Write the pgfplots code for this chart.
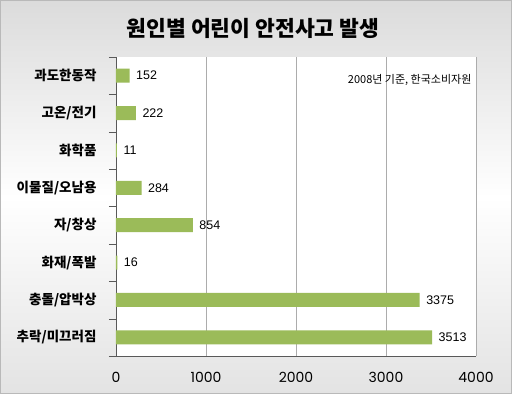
\documentclass[border=0pt]{standalone}
\usepackage{pgfplots}
\pgfplotsset{compat=1.18}
\usepackage{fontspec}
\setmainfont{Liberation Sans}
\newfontfamily\kr{Noto Sans CJK KR}
\newfontfamily\rnd{Poppins}
\definecolor{bargreen}{HTML}{9BBB59}
\begin{document}
\begin{tikzpicture}[x=1pt,y=1pt]
\shade[top color=gray!28, bottom color=gray!22, middle color=white] (0,0) rectangle (512,394);
\draw[gray!55] (0.5,0.5) rectangle (511.5,393.5);
\node[font=\kr\bfseries\fontsize{21.5}{24}\selectfont] at (253,366) {원인별 어린이 안전사고 발생};
\begin{axis}[at={(116pt,38pt)}, anchor=south west, scale only axis,
  width=360pt, height=299pt,
  xbar, bar width=14pt,
  xmin=0, xmax=4000, ymin=-0.5, ymax=7.5, y dir=reverse,
  ytick={0,...,7},
  yticklabels={과도한동작,고온/전기,화학품,이물질/오남용,자/창상,화재/폭발,충돌/압박상,추락/미끄러짐},
  yticklabel style={font=\kr\bfseries\fontsize{13.5}{15}\selectfont, xshift=-16pt},
  xtick={0,1000,2000,3000,4000},
  xticklabel style={font=\rnd\fontsize{14}{16}\selectfont, yshift=-13pt},
  /pgf/number format/assume math mode=true,
  /pgf/number format/1000 sep={},
  major tick length=0pt,
  extra y ticks={-0.5,0.5,1.5,2.5,3.5,4.5,5.5,6.5,7.5},
  extra y tick labels={},
  extra y tick style={major tick length=7pt, tick align=outside, tick style={gray!70!black}, grid=none},
  xmajorgrids, grid style={gray!65},
  axis x line*=bottom, axis y line*=left,
  axis line style={gray!70!black,-},
  axis background/.style={fill=white},
  nodes near coords,
  point meta=x,
  every node near coord/.append style={font=\fontsize{12.5}{14}\selectfont, black, xshift=3pt},
]
\addplot[fill=bargreen, draw=none] coordinates {
(152,0) (222,1) (11,2) (284,3) (854,4) (16,5) (3375,6) (3513,7)};
\draw[gray!70] (axis cs:4000,-0.5) -- (axis cs:4000,7.5);
\end{axis}
\node[anchor=east, font=\kr\fontsize{11}{13}\selectfont] at (475,314) {2008년 기준, 한국소비자원};
\end{tikzpicture}
\end{document}
